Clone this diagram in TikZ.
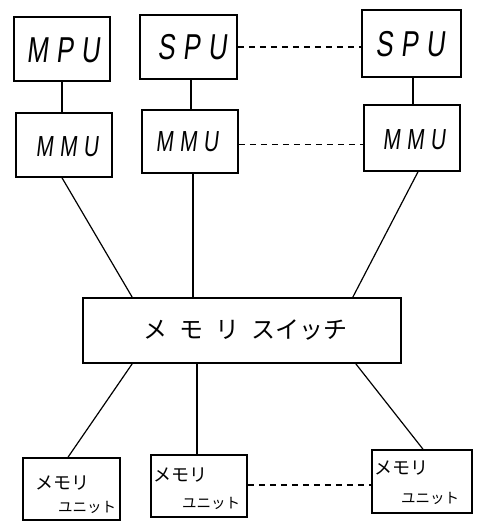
\documentclass[tikz,border=0pt]{standalone}
\usepackage{fontspec}
\newfontfamily\hand[FakeSlant=0.12,FakeStretch=0.72,LetterSpace=22]{Liberation Sans}
\newfontfamily\jp{Noto Sans CJK JP}
\usetikzlibrary{calc}
\begin{document}
\begin{tikzpicture}[x=1pt,y=-1pt,
  box/.style={draw,line width=1.6pt,inner sep=0pt},
  conn/.style={line width=1.2pt},
  dconn/.style={line width=1.2pt,dash pattern=on 6pt off 5pt},
  big/.style={font=\hand\fontsize{36}{36}\selectfont},
  mid/.style={font=\hand\fontsize{29}{29}\selectfont},
  sw/.style={font=\jp\fontsize{24}{24}\selectfont},
  mem/.style={font=\jp\fontsize{18}{18}\selectfont},
  uni/.style={font=\jp\fontsize{14.5}{14.5}\selectfont}]
\useasboundingbox (0,0) rectangle (476,521);
% top row
\node[box,minimum width=96pt,minimum height=64pt] (mpu) at (62,49) {};
\node[box,minimum width=97pt,minimum height=64pt] (spu1) at (188.5,47) {};
\node[box,minimum width=99pt,minimum height=67pt] (spu2) at (411.5,43.5) {};
\node[big] (tmpu) at (63,50) {MPU};
\node[big] (tspu1) at (192,47) {SPU};
\node[big] (tspu2) at (410,44) {SPU};
% mmu row
\node[box,minimum width=96pt,minimum height=64pt] (mmu1) at (64,145) {};
\node[box,minimum width=96pt,minimum height=63pt] (mmu2) at (190,141.5) {};
\node[box,minimum width=96pt,minimum height=66pt] (mmu3) at (412,138) {};
\node[mid] (tmmu1) at (67,147) {MMU};
\node[mid] (tmmu2) at (187,142) {MMU};
\node[mid] (tmmu3) at (414,140) {MMU};
% switch
\node[box,minimum width=318pt,minimum height=65pt] (sw) at (242,330.5) {};
\node[sw] (tsw) at (245,330) {メ\hspace{12pt}モ\hspace{12pt}リ\hspace{12pt}スイッチ};
% memory units
\node[box,minimum width=97pt,minimum height=62pt] (mu1) at (71.5,489) {};
\node[box,minimum width=96pt,minimum height=62pt] (mu2) at (199,486) {};
\node[box,minimum width=100pt,minimum height=63pt] (mu3) at (422,481.5) {};
\node[mem] (m1a) at (62,483) {メモリ};
\node[uni] (m1b) at (87,507) {ユニット};
\node[mem] (m2a) at (180,475) {メモリ};
\node[uni] (m2b) at (211,503) {ユニット};
\node[mem] (m3a) at (401,468) {メモリ};
\node[uni] (m3b) at (430,498) {ユニット};
% connectors
\draw[conn] (mpu.south) -- (mpu.south |- mmu1.north);
\draw[conn] ([xshift=2.5pt]spu1.south) -- ([xshift=2.5pt]spu1.south |- mmu2.north);
\draw[conn] ([xshift=1.5pt]spu2.south) -- ([xshift=1.5pt]spu2.south |- mmu3.north);
\draw[dconn] (spu1.east) -- (spu1.east -| spu2.west);
\draw[dconn] ([yshift=-3pt]mmu2.east) -- ([yshift=-3pt]mmu2.east -| mmu3.west);
\draw[conn] ([xshift=-2pt]mmu1.south) -- ([xshift=50pt]sw.north west);
\draw[conn] ([xshift=3pt]mmu2.south) -- ([xshift=3pt]mmu2.south |- sw.north);
\draw[conn] ([xshift=6pt]mmu3.south) -- ([xshift=-49pt]sw.north east);
\draw[conn] ([xshift=50pt]sw.south west) -- ([xshift=-3.5pt]mu1.north);
\draw[conn] ([xshift=-2pt]mu2.north |- sw.south) -- ([xshift=-2pt]mu2.north);
\draw[conn] ([xshift=-46pt]sw.south east) -- ([xshift=1pt]mu3.north);
\draw[dconn] ([yshift=1pt]mu2.east) -- ([yshift=1pt]mu2.east -| mu3.west);
\end{tikzpicture}
\end{document}
